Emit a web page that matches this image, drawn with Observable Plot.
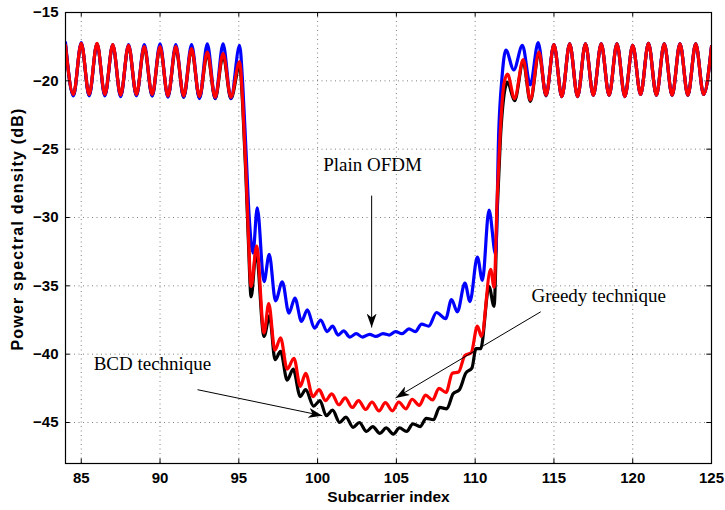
<!DOCTYPE html>
<html>
<head>
<meta charset="utf-8">
<script src="https://cdn.jsdelivr.net/npm/d3@7"></script>
<script src="https://cdn.jsdelivr.net/npm/@observablehq/plot@0.6"></script>
<style>
  html, body { margin: 0; padding: 0; background: #fff; }
  #chart { width: 725px; height: 510px; }
</style>
</head>
<body>
<div id="chart"></div>
<script>
// ---------- axes ----------
const xDomain = [84, 125];
const yDomain = [-48, -15];
const xTicks = [85, 90, 95, 100, 105, 110, 115, 120, 125];
const yTicks = [-45, -40, -35, -30, -25, -20, -15];
const xLabel = "Subcarrier index";
const yLabel = "Power spectral density (dB)";

// ---------- data ([subcarrier index, PSD dB]) ----------
const rightSideband = [
  [115, -17.35], [115.5, -21.15], [116, -17.3], [116.5, -21.15], [117, -17.3], [117.5, -21.05],
  [118, -17.3], [118.5, -21.05], [119, -17.3], [119.5, -21.15], [120, -17.4], [120.5, -21.0],
  [121, -17.25], [121.5, -21.05], [122, -17.3], [122.5, -21.05], [123, -17.3], [123.5, -21.05],
  [124, -17.3], [124.5, -21.0], [125, -17.5]
];

const plainOFDM = [
  [84, -17.2], [84.5, -21.1], [85, -17.2], [85.5, -21.1], [86, -17.3], [86.5, -21.1],
  [87, -17.35], [87.5, -21.15], [88, -17.35], [88.5, -21.1], [89, -17.35], [89.5, -21.1],
  [90, -17.3], [90.5, -21.2], [91, -17.35], [91.5, -21.2], [92, -17.35], [92.5, -21.3],
  [93, -17.3], [93.5, -21.3], [94, -17.3], [94.5, -21.3], [95.05, -17.4],
  [95.25, -20.3], [95.45, -25.0], [95.65, -29.8], [95.9, -32.6], [96.17, -29.3],
  [96.6, -34.7], [96.93, -32.7], [97.33, -36.1], [97.76, -34.7], [98.18, -37.0], [98.56, -35.9],
  [98.98, -37.6], [99.35, -36.75], [99.8, -38.1], [100.2, -37.5], [100.6, -38.35], [100.95, -37.95],
  [101.3, -38.6], [101.65, -38.3], [102.05, -38.75], [102.45, -38.5], [102.85, -38.75], [103.3, -38.55],
  [103.7, -38.7], [104.15, -38.5], [104.55, -38.6], [104.95, -38.35], [105.35, -38.5], [105.8, -38.15],
  [106.2, -38.35], [106.6, -37.8], [107.05, -37.95], [107.55, -36.95], [108.13, -37.4], [108.5, -36.0],
  [108.87, -36.9], [109.35, -34.8], [109.67, -36.15], [110.14, -32.9], [110.46, -34.6], [110.88, -29.45],
  [111.3, -32.7], [111.5, -23.6], [111.7, -19.8], [111.95, -17.75], [112.45, -19.2], [113.0, -17.4],
  [113.5, -20.3], [114.0, -17.2], [114.5, -21.05]
].concat(rightSideband);

const greedy = [
  [84, -17.4], [84.5, -21.0], [85, -17.25], [85.5, -21.0], [86, -17.25], [86.5, -21.0],
  [87, -17.35], [87.5, -21.05], [88, -17.4], [88.5, -21.0], [89, -17.5], [89.5, -21.0],
  [90, -17.5], [90.5, -21.1], [91, -17.5], [91.5, -21.1], [92, -17.65], [92.5, -21.15],
  [93, -17.9], [93.5, -21.2], [94, -18.0], [94.5, -21.2], [95.05, -18.6],
  [95.25, -21.6], [95.45, -26.5], [95.6, -31.0], [95.78, -35.05], [96.13, -32.1],
  [96.6, -38.45], [96.9, -36.3], [97.29, -39.7], [97.65, -38.8], [98.07, -41.1], [98.5, -40.3],
  [98.9, -42.35], [99.24, -41.4], [99.7, -43.1], [100.1, -42.6], [100.5, -43.4], [100.9, -42.9],
  [101.35, -43.7], [101.75, -43.2], [102.2, -43.9], [102.6, -43.4], [103.05, -44.05], [103.45, -43.5],
  [103.9, -44.15], [104.3, -43.55], [104.75, -44.15], [105.15, -43.5], [105.6, -44.0], [106.0, -43.3],
  [106.45, -43.75], [106.85, -43.0], [107.3, -43.35], [107.7, -42.5], [108.15, -42.8], [108.55, -41.4],
  [108.95, -41.3], [109.35, -40.1], [109.75, -39.9], [110.14, -37.95], [110.4, -38.7], [110.98, -33.8],
  [111.2, -35.1], [111.4, -28.5], [111.6, -23.6], [111.83, -20.2], [112.05, -19.5], [112.5, -21.3],
  [113.05, -18.45], [113.5, -21.4], [114.05, -17.9], [114.5, -21.05]
].concat(rightSideband);

const bcd = [
  [84, -17.4], [84.5, -21.05], [85, -17.3], [85.5, -21.05], [86, -17.3], [86.5, -21.05],
  [87, -17.4], [87.5, -21.1], [88, -17.45], [88.5, -21.05], [89, -17.55], [89.5, -21.1],
  [90, -17.55], [90.5, -21.15], [91, -17.6], [91.5, -21.2], [92, -17.7], [92.5, -21.25],
  [93, -18.0], [93.5, -21.3], [94, -18.15], [94.5, -21.3], [95.05, -18.9],
  [95.25, -21.9], [95.45, -27.0], [95.6, -31.5], [95.78, -35.8], [96.1, -32.5],
  [96.6, -38.7], [96.95, -37.2], [97.3, -40.4], [97.65, -39.8], [98.07, -41.9], [98.45, -41.1],
  [98.9, -43.1], [99.24, -42.6], [99.75, -43.8], [100.15, -43.4], [100.55, -44.5], [100.95, -44.1],
  [101.4, -45.0], [101.8, -44.6], [102.25, -45.35], [102.65, -45.0], [103.1, -45.65], [103.5, -45.3],
  [103.95, -45.8], [104.35, -45.4], [104.8, -45.85], [105.2, -45.4], [105.65, -45.65], [106.05, -45.1],
  [106.5, -45.3], [106.9, -44.7], [107.35, -44.8], [107.75, -43.9], [108.2, -44.0], [108.6, -42.9],
  [109.0, -42.6], [109.4, -41.4], [109.8, -41.0], [110.05, -39.6], [110.35, -39.6], [110.88, -35.05],
  [111.2, -36.5], [111.4, -29.5], [111.6, -24.3], [111.85, -20.9], [112.05, -20.1], [112.5, -21.45],
  [113.05, -18.6], [113.5, -21.5], [114.05, -18.0], [114.5, -21.1]
].concat(rightSideband);

// ---------- annotations ----------
const noteText = ["Plain OFDM", "Greedy technique", "BCD technique"];
const noteX = [103.49, 117.84, 89.52];
const noteY = [-26.17, -35.73, -40.69];
const arrowFromX = [103.43, 114.16, 92.38];
const arrowFromY = [-28.4, -36.9, -42.6];
const arrowToX = [103.43, 104.95, 100.3];
const arrowToY = [-38.05, -43.2, -44.5];

const notes = noteText.map((t, i) => ({text: t, x: noteX[i], y: noteY[i]}));
const arrows = arrowFromX.map((_, i) => ({x1: arrowFromX[i], y1: arrowFromY[i], x2: arrowToX[i], y2: arrowToY[i]}));

const toRows = (arr) => arr.map(([x, y]) => ({x, y}));

function arrowHead(color) {
  const m = d3.create("svg:marker")
    .attr("viewBox", "-14 -5 14 10")
    .attr("markerWidth", 14)
    .attr("markerHeight", 10)
    .attr("markerUnits", "userSpaceOnUse")
    .attr("refX", 0).attr("refY", 0)
    .attr("orient", "auto")
    .attr("fill", color === "currentColor" ? "black" : color)
    .attr("stroke", "none");
  m.append("path").attr("d", "M0,0L-14,-5L-10,0L-14,5Z");
  return m.node();
}

const sans = "'Liberation Sans', Arial, Helvetica, sans-serif";
const serif = "'Liberation Serif', 'Times New Roman', serif";
const tickX = 0.3;   // inside tick length along x (data units)
const tickY = 0.33;  // inside tick length along y (data units)
const lw = 3.2;

function build(marker) {
  return Plot.plot({
    width: 725,
    height: 510,
    marginTop: 12,
    marginBottom: 47,
    marginLeft: 65,
    marginRight: 14,
    style: {fontFamily: sans, background: "#fff", color: "#000"},
    x: {domain: xDomain, type: "linear"},
    y: {domain: yDomain, type: "linear"},
    marks: [
      Plot.gridX({ticks: xTicks, stroke: "#000", strokeOpacity: 0.5, strokeDasharray: "1,3.5", strokeWidth: 1}),
      Plot.gridY({ticks: yTicks, stroke: "#000", strokeOpacity: 0.5, strokeDasharray: "1,3.5", strokeWidth: 1}),
      Plot.line(toRows(bcd), {x: "x", y: "y", stroke: "#000000", strokeWidth: lw, curve: "monotone-x", clip: true}),
      Plot.line(toRows(plainOFDM), {x: "x", y: "y", stroke: "#0000ff", strokeWidth: lw, curve: "monotone-x", clip: true}),
      Plot.line(toRows(greedy), {x: "x", y: "y", stroke: "#ff0000", strokeWidth: lw, curve: "monotone-x", clip: true}),
      // inside ticks on all four sides
      Plot.ruleX(xTicks, {x: d => d, y1: yDomain[0], y2: yDomain[0] + tickY, stroke: "#000"}),
      Plot.ruleX(xTicks, {x: d => d, y1: yDomain[1] - tickY, y2: yDomain[1], stroke: "#000"}),
      Plot.ruleY(yTicks, {y: d => d, x1: xDomain[0], x2: xDomain[0] + tickX, stroke: "#000"}),
      Plot.ruleY(yTicks, {y: d => d, x1: xDomain[1] - tickX, x2: xDomain[1], stroke: "#000"}),
      Plot.frame({stroke: "#000", strokeWidth: 1.2}),
      Plot.axisX({ticks: xTicks, tickSize: 0, tickPadding: 9, fontSize: 15, fontWeight: "bold", label: null}),
      Plot.axisY({ticks: yTicks, tickSize: 0, tickPadding: 7, fontSize: 15, fontWeight: "bold", label: null}),
      Plot.text([xLabel], {frameAnchor: "bottom", lineAnchor: "middle", textAnchor: "middle", dy: 34, fontSize: 15.5, fontWeight: "bold", text: d => d}),
      Plot.text([yLabel], {frameAnchor: "left", lineAnchor: "middle", textAnchor: "middle", rotate: -90, dx: -48, dy: -9, fontSize: 16, fontWeight: "bold", text: d => d}),
      Plot.link(arrows, {x1: "x1", y1: "y1", x2: "x2", y2: "y2", stroke: "#000", strokeWidth: 1, markerEnd: marker}),
      Plot.text(notes, {x: "x", y: "y", text: "text", fontFamily: serif, fontSize: 19, fill: "#000"})
    ]
  });
}

let chart;
try {
  chart = build(arrowHead);
} catch (e) {
  chart = build("arrow");
}
// slightly widen the rotated y-axis title, as in the reference
d3.select(chart).selectAll("text").filter(function () { return this.textContent === yLabel; })
  .attr("letter-spacing", "1.2px");
document.getElementById("chart").append(chart);
</script>
</body>
</html>
